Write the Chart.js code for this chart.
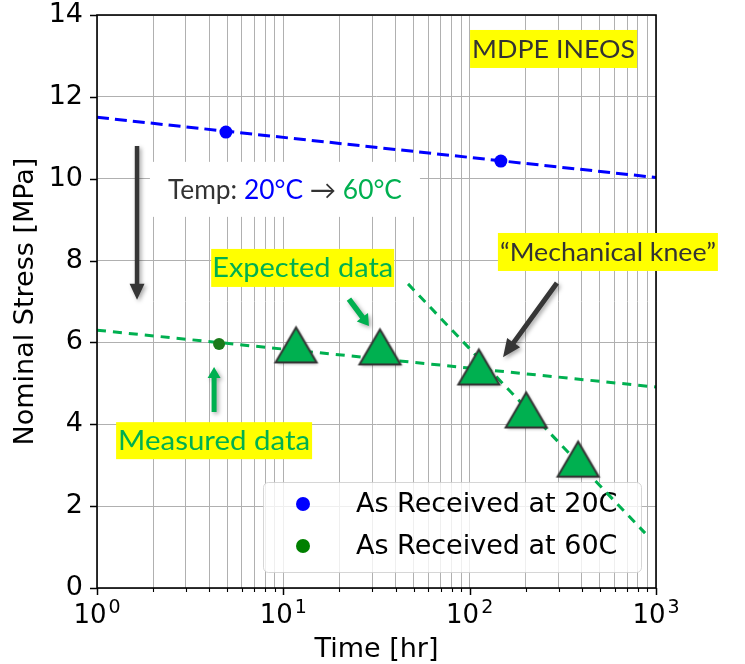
<!DOCTYPE html>
<html>
<head>
<meta charset="utf-8">
<script src="https://cdn.jsdelivr.net/npm/chart.js@4.4.1/dist/chart.umd.min.js"></script>
<style>
  body { margin: 0; background: #fff; }
  #wrap { width: 745px; height: 664px; }
</style>
</head>
<body>
<div id="wrap"><canvas id="chart" width="745" height="664"></canvas></div>
<script>
// MDPE INEOS stress rupture, as received at 20C and 60C
const received20Time = [4.92, 147];
const received20Stress = [11.14, 10.43];
const received60Time = [4.52];
const received60Stress = [5.96];
const expectedTime = [11.7, 33.0, 112, 201, 382];
const expectedStress = [5.94, 5.89, 5.40, 4.35, 3.15];

// trend lines, end points only
const trend20Time = [1, 1000];
const trend20Stress = [11.5, 10.03];
const ductileTime = [1, 1000];
const ductileStress = [6.30, 4.91];
const brittleTime = [46.7, 874];
const brittleStress = [7.43, 1.34];

// axis ticks
const decades = [1, 10, 100, 1000];
const decadeExponents = ['0', '1', '2', '3'];
const stressTicks = [0, 2, 4, 6, 8, 10, 12, 14];

const DARK = '#333333';
const BLUE = '#0000ff';
const GREEN = '#00b050';
const AXIS_FONT = 'DejaVu Sans';
const NOTE_FONT = 'Lato';

// minor ticks 2..9 inside every decade
const minorTimes = [];
decades.slice(0, -1).forEach(d => {
  for (let m = 2; m <= 9; m++) minorTimes.push(d * m);
});
const allTimes = decades.concat(minorTimes).sort((a, b) => a - b);

function pts(xs, ys) {
  return xs.map((x, i) => ({ x: x, y: ys[i] }));
}

// triangle marker, centred on its bounding box
function makeTriangle(w, h) {
  const m = 7;
  const c = document.createElement('canvas');
  c.width = w + 2 * m;
  c.height = h + 2 * m;
  const g = c.getContext('2d');
  g.beginPath();
  g.moveTo(m + w / 2, m);
  g.lineTo(m + w, m + h);
  g.lineTo(m, m + h);
  g.closePath();
  g.shadowColor = 'rgba(0,0,0,0.35)';
  g.shadowBlur = 3;
  g.shadowOffsetX = 1.5;
  g.shadowOffsetY = 1.5;
  g.fillStyle = GREEN;
  g.fill();
  g.shadowColor = 'transparent';
  g.lineWidth = 2;
  g.strokeStyle = DARK;
  g.stroke();
  return c;
}

// text boxes and arrows drawn on top, placed in data coordinates
const noteBoxes = [
  { x: 282, y: 13.17, w: 167, h: 38, fill: '#ffff00', size: 25.5, textW: 163, runs: [['MDPE INEOS', DARK]] },
  { x: 10.2, y: 9.74, w: 270, h: 55, fill: '#ffffff', size: 26, textW: 234,
    runs: [['Temp: ', DARK], ['20°C', BLUE], [' \u2192 ', DARK], ['60°C', GREEN]] },
  { x: 12.7, y: 7.82, w: 183, h: 38, fill: '#ffff00', size: 26, textW: 181, runs: [['Expected data', GREEN]] },
  { x: 552, y: 8.21, w: 220, h: 38, fill: '#ffff00', size: 25.5, textW: 216, runs: [['\u201cMechanical knee\u201d', DARK]] },
  { x: 4.25, y: 3.60, w: 196, h: 37, fill: '#ffff00', size: 26, textW: 192, runs: [['Measured data', GREEN]] }
];
const noteArrows = [
  { from: [1.64, 10.80], to: [1.64, 7.04], shaft: 4.5, head: 15, len: 16, color: '#363636' },
  { from: [294, 7.45], to: [151, 5.64], shaft: 5, head: 16, len: 18, color: '#363636' },
  { from: [22.5, 7.06], to: [28.8, 6.40], shaft: 5.5, head: 14, len: 11, color: GREEN },
  { from: [4.25, 4.30], to: [4.25, 5.40], shaft: 5, head: 13, len: 11, color: GREEN }
];

const legendItems = [
  { label: 'As Received at 20C', color: BLUE },
  { label: 'As Received at 60C', color: '#008000' }
];

function drawArrow(ctx, x0, y0, x1, y1, a) {
  const dx = x1 - x0, dy = y1 - y0;
  const L = Math.hypot(dx, dy);
  const ux = dx / L, uy = dy / L;
  const nx = -uy, ny = ux;
  const bx = x1 - ux * a.len, by = y1 - uy * a.len;
  const s = a.shaft / 2, h = a.head / 2;
  ctx.save();
  ctx.shadowColor = 'rgba(0,0,0,0.35)';
  ctx.shadowBlur = 4;
  ctx.shadowOffsetX = 2;
  ctx.shadowOffsetY = 2;
  ctx.beginPath();
  ctx.moveTo(x0 + nx * s, y0 + ny * s);
  ctx.lineTo(bx + nx * s, by + ny * s);
  ctx.lineTo(bx + nx * h, by + ny * h);
  ctx.lineTo(x1, y1);
  ctx.lineTo(bx - nx * h, by - ny * h);
  ctx.lineTo(bx - nx * s, by - ny * s);
  ctx.lineTo(x0 - nx * s, y0 - ny * s);
  ctx.closePath();
  ctx.fillStyle = a.color;
  ctx.fill();
  ctx.restore();
}

function drawNoteBox(ctx, cx, cy, b) {
  ctx.save();
  ctx.fillStyle = b.fill;
  ctx.fillRect(cx - b.w / 2, cy - b.h / 2, b.w, b.h);
  // squeeze the line horizontally so it spans the wanted width
  const full = b.runs.map(r => r[0]).join('');
  ctx.font = b.size + 'px ' + NOTE_FONT;
  const k = b.textW / ctx.measureText(full).width;
  ctx.translate(cx - b.textW / 2, cy + 1);
  ctx.scale(k, 1);
  ctx.textBaseline = 'middle';
  ctx.textAlign = 'left';
  let x = 0;
  b.runs.forEach(r => {
    ctx.fillStyle = r[1];
    ctx.fillText(r[0], x, 0);
    x += ctx.measureText(r[0]).width;
  });
  ctx.restore();
}

const framePlugin = {
  id: 'frame',
  beforeDatasetsDraw(chart) {
    // legend box sits under the plotted marks
    const ctx = chart.ctx, a = chart.chartArea;
    const w = 378, h = 90;
    const lx = a.right - 15 - w, ly = a.bottom - 16 - h;
    ctx.save();
    ctx.beginPath();
    ctx.roundRect(lx + 0.5, ly + 0.5, w, h, 5);
    ctx.fillStyle = 'rgba(255,255,255,0.8)';
    ctx.fill();
    ctx.strokeStyle = 'rgba(204,204,204,0.8)';
    ctx.lineWidth = 1;
    ctx.stroke();
    ctx.font = '27px ' + AXIS_FONT;
    ctx.textBaseline = 'middle';
    legendItems.forEach((it, i) => {
      const y = ly + 22 + i * 42;
      ctx.beginPath();
      ctx.arc(lx + 40, y, 7, 0, Math.PI * 2);
      ctx.fillStyle = it.color;
      ctx.fill();
      ctx.fillStyle = '#000';
      ctx.fillText(it.label, lx + 93, y + 1);
    });
    ctx.restore();
  },
  afterDatasetsDraw(chart) {
    const ctx = chart.ctx, a = chart.chartArea;
    const xs = chart.scales.x, ys = chart.scales.y;
    ctx.save();
    // tick marks
    ctx.strokeStyle = '#000';
    allTimes.forEach(t => {
      const px = Math.round(xs.getPixelForValue(t)) + 0.5;
      const major = decades.includes(t);
      ctx.lineWidth = major ? 1.5 : 1.1;
      ctx.beginPath();
      ctx.moveTo(px, a.bottom);
      ctx.lineTo(px, a.bottom + (major ? 7 : 4));
      ctx.stroke();
    });
    stressTicks.forEach(v => {
      const py = Math.round(ys.getPixelForValue(v)) + 0.5;
      ctx.lineWidth = 1.5;
      ctx.beginPath();
      ctx.moveTo(a.left, py);
      ctx.lineTo(a.left - 7, py);
      ctx.stroke();
    });
    // decade labels as 10 with a raised exponent
    ctx.fillStyle = '#000';
    ctx.textBaseline = 'alphabetic';
    ctx.textAlign = 'left';
    decades.forEach((d, i) => {
      const px = xs.getPixelForValue(d);
      ctx.font = '26px ' + AXIS_FONT;
      const wb = ctx.measureText('10').width;
      ctx.font = '19px ' + AXIS_FONT;
      const we = ctx.measureText(decadeExponents[i]).width;
      const x0 = px - (wb + 2 + we) / 2;
      ctx.font = '26px ' + AXIS_FONT;
      ctx.fillText('10', x0, a.bottom + 35);
      ctx.font = '19px ' + AXIS_FONT;
      ctx.fillText(decadeExponents[i], x0 + wb + 2, a.bottom + 25);
    });
    // axes frame
    ctx.lineWidth = 1.6;
    ctx.strokeStyle = '#000';
    ctx.strokeRect(a.left, a.top, a.right - a.left, a.bottom - a.top);
    ctx.restore();

    noteArrows.forEach(ar => {
      drawArrow(ctx,
        xs.getPixelForValue(ar.from[0]), ys.getPixelForValue(ar.from[1]),
        xs.getPixelForValue(ar.to[0]), ys.getPixelForValue(ar.to[1]), ar);
    });
    noteBoxes.forEach(b => {
      drawNoteBox(ctx, xs.getPixelForValue(b.x), ys.getPixelForValue(b.y), b);
    });
  }
};

const gridStyle = { color: '#b0b0b0', lineWidth: 1, drawTicks: false };

new Chart(document.getElementById('chart'), {
  type: 'scatter',
  data: {
    datasets: [
      {
        label: 'trend 20C', data: pts(trend20Time, trend20Stress), showLine: true,
        borderColor: BLUE, borderWidth: 3, borderDash: [12, 6], pointRadius: 0, order: 6
      },
      {
        label: 'As Received at 20C', data: pts(received20Time, received20Stress),
        backgroundColor: BLUE, borderWidth: 0, pointRadius: 6.5, order: 5
      },
      {
        label: 'ductile', data: pts(ductileTime, ductileStress), showLine: true,
        borderColor: GREEN, borderWidth: 3, borderDash: [9, 7], pointRadius: 0, order: 4
      },
      {
        label: 'brittle', data: pts(brittleTime, brittleStress), showLine: true,
        borderColor: GREEN, borderWidth: 3, borderDash: [9, 7], pointRadius: 0, order: 3
      },
      {
        label: 'As Received at 60C', data: pts(received60Time, received60Stress),
        backgroundColor: '#1a7a1a', borderWidth: 0, pointRadius: 6, order: 2
      },
      {
        label: 'expected', data: pts(expectedTime, expectedStress),
        pointStyle: makeTriangle(41, 35), pointRadius: 20, order: 1
      }
    ]
  },
  options: {
    responsive: false,
    animation: false,
    events: [],
    layout: { autoPadding: false, padding: { left: 0, top: 15, right: 89, bottom: 0 } },
    plugins: { legend: { display: false }, tooltip: { enabled: false } },
    scales: {
      x: {
        type: 'logarithmic', min: 1, max: 1000,
        afterBuildTicks: s => { s.ticks = allTimes.map(v => ({ value: v })); },
        afterFit: s => { s.height = 76; s.paddingLeft = 0; s.paddingRight = 0; },
        ticks: { display: false },
        grid: gridStyle,
        border: { display: false },
        title: {
          display: true, text: 'Time [hr]', color: '#000',
          font: { family: AXIS_FONT, size: 27, lineHeight: 1 }, padding: { top: 0, bottom: 1 }
        }
      },
      y: {
        min: 0, max: 14,
        afterBuildTicks: s => { s.ticks = stressTicks.map(v => ({ value: v })); },
        afterFit: s => { s.width = 97; s.paddingTop = 0; s.paddingBottom = 0; },
        ticks: {
          color: '#000', padding: 14, autoSkip: false,
          font: { family: AXIS_FONT, size: 27, lineHeight: 1 }
        },
        grid: gridStyle,
        border: { display: false },
        title: {
          display: true, text: 'Nominal Stress [MPa]', color: '#000',
          font: { family: AXIS_FONT, size: 27 }, padding: { top: 10, bottom: 0 }
        }
      }
    }
  },
  plugins: [framePlugin]
});
</script>
</body>
</html>
